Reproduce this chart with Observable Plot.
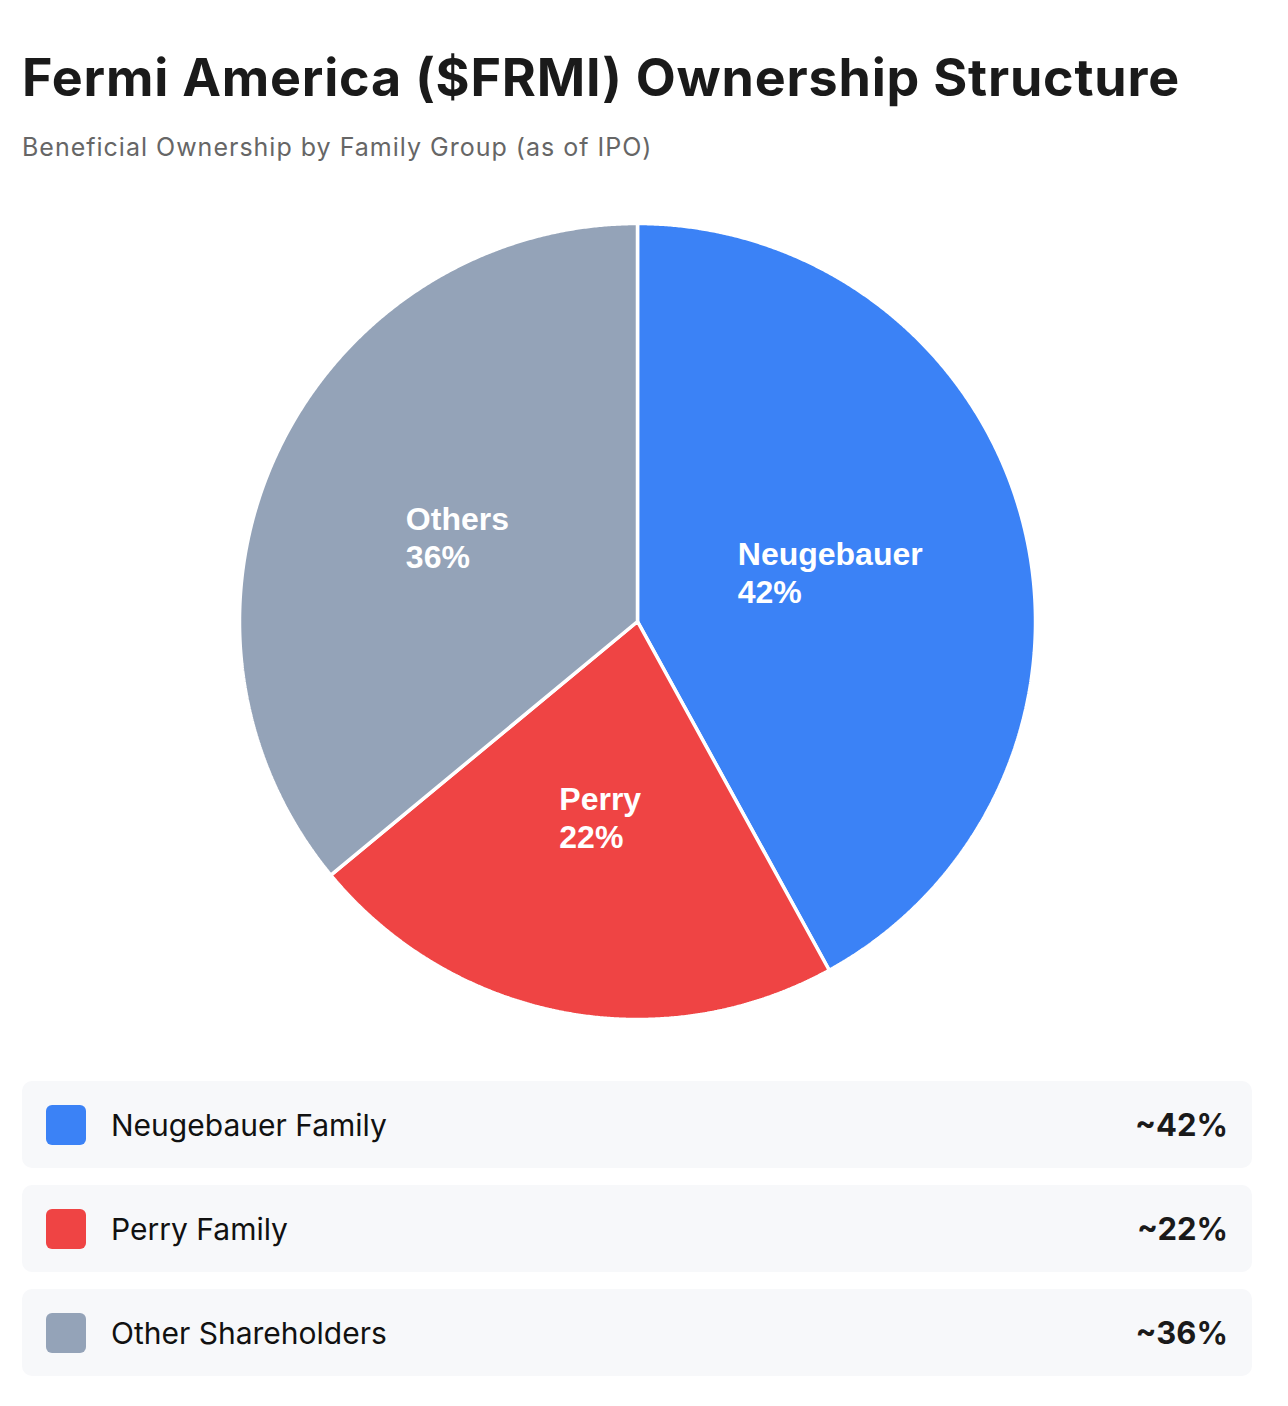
<!DOCTYPE html>
<html>
<head>
<meta charset="utf-8">
<script src="https://cdn.jsdelivr.net/npm/d3@7"></script>
<script src="https://cdn.jsdelivr.net/npm/@observablehq/plot@0.6"></script>
<style>
  html, body { margin: 0; padding: 0; background: #ffffff; }
  body { width: 1288px; height: 1406px; font-family: Inter, "Noto Sans", sans-serif; }
  #wrap { position: relative; padding-left: 22px; width: 1230px; }
  h1 { margin: 0; padding-top: 47px; font-size: 52px; line-height: 62px; font-weight: 700; color: #1a1a1a; letter-spacing: 0.8px; white-space: nowrap; }
  .sub { margin-top: 23px; font-size: 25px; line-height: 30px; color: #666666; letter-spacing: 1px; white-space: nowrap; }
  #chart { margin-top: 39px; height: 840px; }
  #chart svg { display: block; }
  .legend { margin-top: 40px; }
  .row { display: flex; align-items: center; height: 87px; box-sizing: border-box; padding: 0 24px 0 24px; background: #f7f8fa; border-radius: 10px; margin-bottom: 17px; }
  .sw { width: 40px; height: 40px; border-radius: 6px; margin-right: 25px; flex: none; }
  .lab { font-size: 30px; color: #111; flex: 1; }
  .val { font-size: 31px; font-weight: 700; color: #1a1a1a; }
</style>
</head>
<body>
<div id="wrap">
  <h1>Fermi America ($FRMI) Ownership Structure</h1>
  <div class="sub">Beneficial Ownership by Family Group (as of IPO)</div>
  <div id="chart"></div>
  <div class="legend" id="legend"></div>
</div>
<script>
// ---- data ----
const names = ["Neugebauer", "Perry", "Others"];
const legendNames = ["Neugebauer Family", "Perry Family", "Other Shareholders"];
const shares = [42, 22, 36];
const legendValues = ["~42%", "~22%", "~36%"];
// ---- styles ----
const colors = ["#3b82f6", "#ef4444", "#94a3b8"];

const W = 1230, H = 840, R = 398; // pixel radius of the pie

// pie angles: start at top, clockwise
const pie = d3.pie().sort(null).value(d => d.share)(names.map((n, i) => ({name: n, share: shares[i]})));

const slicePts = [];
for (const p of pie) {
  const a0 = p.startAngle, a1 = p.endAngle;
  slicePts.push({name: p.data.name, x: 0, y: 0});
  const n = Math.max(2, Math.ceil((a1 - a0) / (Math.PI / 720)));
  for (let k = 0; k <= n; k++) {
    const a = a0 + (a1 - a0) * k / n;
    slicePts.push({name: p.data.name, x: Math.sin(a), y: Math.cos(a)});
  }
}

// label positions at half radius, block left-aligned and centred on the centroid
const labelFont = "bold 32px 'Liberation Sans', Arial, sans-serif";
const ctx = document.createElement("canvas").getContext("2d");
ctx.font = labelFont;
const labels = pie.map(p => {
  const a = (p.startAngle + p.endAngle) / 2;
  const line1 = p.data.name, line2 = p.data.share + "%";
  const w = Math.max(ctx.measureText(line1).width, ctx.measureText(line2).width);
  return {
    text: line1 + "\n" + line2,
    x: 0.5 * Math.sin(a) - (w / 2) / R,
    y: 0.5 * Math.cos(a)
  };
});

const chart = Plot.plot({
  width: W,
  height: H,
  margin: 0,
  x: {domain: [-W / 2 / R, W / 2 / R], axis: null},
  y: {domain: [-H / 2 / R, H / 2 / R], axis: null},
  color: {domain: names, range: colors},
  style: {background: "transparent", overflow: "visible"},
  marks: [
    Plot.line(slicePts, {x: "x", y: "y", z: "name", fill: "name", stroke: "white", strokeWidth: 3.5, strokeLinejoin: "miter", curve: "linear-closed"}),
    Plot.text(labels, {x: "x", y: "y", text: "text", fill: "white", fontSize: 32, fontWeight: "bold",
      fontFamily: "'Liberation Sans', Arial, sans-serif", textAnchor: "start", lineAnchor: "middle", lineHeight: 1.1875})
  ]
});
document.getElementById("chart").appendChild(chart);

const leg = document.getElementById("legend");
legendNames.forEach((n, i) => {
  const row = document.createElement("div");
  row.className = "row";
  row.innerHTML = `<div class="sw" style="background:${colors[i]}"></div><div class="lab">${n}</div><div class="val">${legendValues[i]}</div>`;
  leg.appendChild(row);
});
</script>
</body>
</html>
